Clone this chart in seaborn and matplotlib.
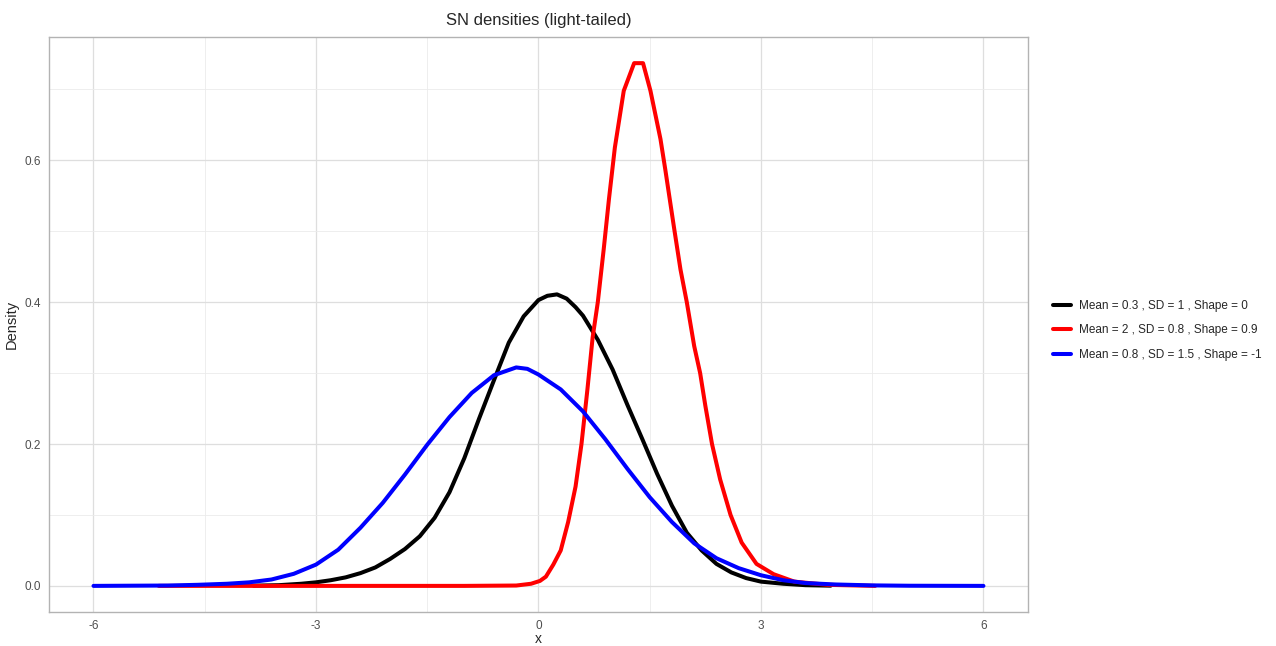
import numpy as np
import pandas as pd
import matplotlib
matplotlib.use("Agg")
import matplotlib.pyplot as plt
import seaborn as sns
from matplotlib.ticker import MultipleLocator

# values
labels = [
    "Mean = 0.3 , SD = 1 , Shape = 0",
    "Mean = 2 , SD = 0.8 , Shape = 0.9",
    "Mean = 0.8 , SD = 1.5 , Shape = -1",
]
colors = ["black", "red", "blue"]

black_x = [-3.84, -3.5, -3.2, -3.0, -2.8, -2.6, -2.4, -2.2, -2.0, -1.8, -1.6, -1.4,
           -1.2, -1.0, -0.8, -0.6, -0.4, -0.2, 0.0, 0.12, 0.25, 0.38, 0.5, 0.6,
           0.8, 1.0, 1.2, 1.4, 1.6, 1.8, 2.0, 2.2, 2.4, 2.6, 2.8, 3.0, 3.3, 3.6, 3.94]
black_y = [0.0003, 0.001, 0.003, 0.005, 0.008, 0.012, 0.018, 0.026, 0.038, 0.052, 0.070, 0.096,
           0.132, 0.18, 0.236, 0.29, 0.343, 0.38, 0.403, 0.409, 0.411, 0.405, 0.393, 0.381,
           0.347, 0.305, 0.255, 0.207, 0.158, 0.113, 0.075, 0.05, 0.031, 0.019, 0.011, 0.006, 0.003, 0.001, 0.0003]

red_x = [-5.12, -1.0, -0.3, -0.1, 0.02, 0.1, 0.2, 0.3, 0.4, 0.5, 0.58, 0.66, 0.73, 0.8,
         0.88, 0.95, 1.03, 1.15, 1.29, 1.41, 1.51, 1.645, 1.71, 1.825, 1.915, 2.0, 2.1,
         2.18, 2.25, 2.34, 2.45, 2.59, 2.74, 2.94, 3.17, 3.45, 3.9, 4.54]
red_y = [0.0, 0.0, 0.0005, 0.003, 0.007, 0.013, 0.03, 0.05, 0.09, 0.14, 0.2, 0.277, 0.35, 0.40,
         0.475, 0.545, 0.618, 0.698, 0.737, 0.737, 0.698, 0.63, 0.587, 0.507, 0.446, 0.400, 0.338,
         0.300, 0.254, 0.200, 0.150, 0.100, 0.061, 0.031, 0.0165, 0.006, 0.0015, 0.0]

blue_x = [-6.0, -5.0, -4.6, -4.2, -3.9, -3.6, -3.3, -3.0, -2.7, -2.4, -2.1, -1.8, -1.5,
          -1.2, -0.9, -0.6, -0.3, -0.15, 0.0, 0.3, 0.6, 0.9, 1.2, 1.5, 1.8, 2.1, 2.4,
          2.7, 3.0, 3.3, 3.6, 4.0, 4.5, 5.0, 6.0]
blue_y = [0.0, 0.0005, 0.0015, 0.003, 0.005, 0.009, 0.017, 0.030, 0.051, 0.082, 0.117, 0.157, 0.199,
          0.238, 0.272, 0.297, 0.308, 0.306, 0.298, 0.277, 0.246, 0.207, 0.165, 0.125, 0.09, 0.06, 0.039,
          0.025, 0.015, 0.008, 0.004, 0.002, 0.0007, 0.0002, 0.0]

df = pd.concat([
    pd.DataFrame({"x": black_x, "density": black_y, "label": labels[0]}),
    pd.DataFrame({"x": red_x, "density": red_y, "label": labels[1]}),
    pd.DataFrame({"x": blue_x, "density": blue_y, "label": labels[2]}),
], ignore_index=True)

sns.set_style("whitegrid")
plt.rcParams["font.family"] = ["Liberation Sans", "DejaVu Sans"]

fig = plt.figure(figsize=(12.76, 6.46), dpi=100)
ax = fig.add_axes([0.0384, 0.0526, 0.7672, 0.8901])

sns.lineplot(data=df, x="x", y="density", hue="label", hue_order=labels,
             palette=dict(zip(labels, colors)), sort=False, estimator=None,
             linewidth=2.9, ax=ax)

# ggplot-like 5% expansion
xmin, xmax = df["x"].min(), df["x"].max()
ymin, ymax = df["density"].min(), df["density"].max()
ax.set_xlim(xmin - 0.05 * (xmax - xmin), xmax + 0.05 * (xmax - xmin))
ax.set_ylim(ymin - 0.05 * (ymax - ymin), ymax + 0.05 * (ymax - ymin))

ax.set_xticks([-6, -3, 0, 3, 6])
ax.set_xticklabels(["-6", "-3", "0", "3", "6"])
ax.set_yticks([0.0, 0.2, 0.4, 0.6])
ax.set_yticklabels(["0.0", "0.2", "0.4", "0.6"])
ax.xaxis.set_minor_locator(MultipleLocator(1.5))
ax.yaxis.set_minor_locator(MultipleLocator(0.1))

ax.grid(which="major", color="#DEDEDE", linewidth=0.9)
ax.grid(which="minor", color="#EBEBEB", linewidth=0.6)
ax.set_axisbelow(True)
for s in ax.spines.values():
    s.set_color("#B3B3B3")
    s.set_linewidth(1.0)

ax.tick_params(which="major", length=3.5, width=0.8, color="#B3B3B3",
               labelcolor="#4D4D4D", labelsize=8.5, pad=2.5)
ax.tick_params(which="minor", length=0)

ax.set_title("SN densities (light-tailed)", fontsize=12, pad=9)
ax.set_xlabel("x", fontsize=10, labelpad=0)
ax.set_ylabel("Density", fontsize=10.5, labelpad=4)

ax.legend(loc="center left", bbox_to_anchor=(1.015, 0.49), frameon=False,
          fontsize=8.5, handlelength=1.5, labelspacing=1.05, handletextpad=0.7,
          title=None)

fig.savefig("out.png", dpi=100)
